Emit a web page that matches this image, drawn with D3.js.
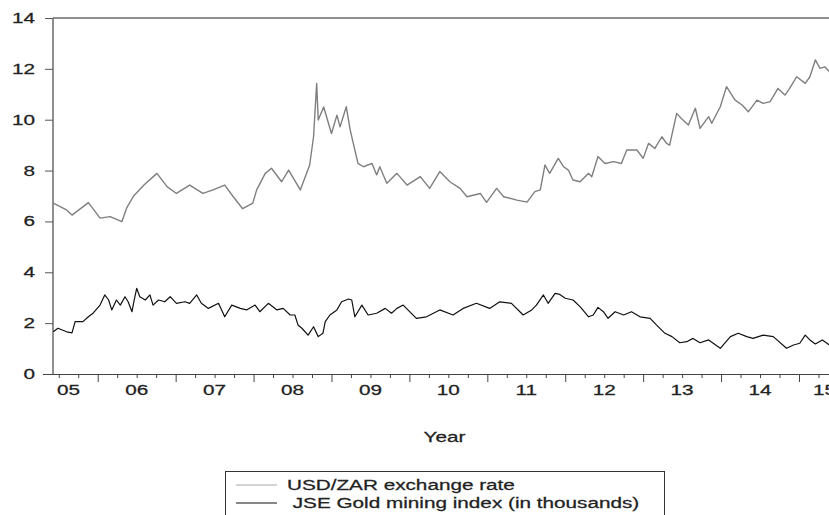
<!DOCTYPE html>
<html>
<head>
<meta charset="utf-8">
<script src="https://cdn.jsdelivr.net/npm/d3@7"></script>
<style>
  body { margin: 0; background: #fff; }
  text { font-family: Arial, 'Liberation Sans', sans-serif; fill: #222; stroke: #222; stroke-width: 0.25px; }
</style>
</head>
<body>
<svg id="chart" width="829" height="515"></svg>
<script>
// values (decimal year, value)
const usdDates = [2005.43, 2005.60, 2005.67, 2005.88, 2006.03, 2006.16, 2006.31, 2006.37, 2006.46, 2006.60, 2006.76, 2006.89,
  2007.01, 2007.18, 2007.35, 2007.48, 2007.63, 2007.74, 2007.86, 2007.99, 2008.04, 2008.15, 2008.23, 2008.36,
  2008.45, 2008.60, 2008.72, 2008.77, 2008.81, 2008.83, 2008.90, 2009.00, 2009.07, 2009.11, 2009.19, 2009.24,
  2009.28, 2009.34, 2009.41, 2009.52, 2009.58, 2009.62, 2009.71, 2009.84, 2009.97, 2010.14, 2010.26, 2010.39,
  2010.52, 2010.65, 2010.74, 2010.91, 2010.99, 2011.12, 2011.21, 2011.38, 2011.51, 2011.61, 2011.68, 2011.74,
  2011.80, 2011.91, 2011.98, 2012.04, 2012.10, 2012.19, 2012.30, 2012.34, 2012.42, 2012.51, 2012.62, 2012.72,
  2012.79, 2012.92, 2013.00, 2013.07, 2013.15, 2013.24, 2013.30, 2013.34, 2013.43, 2013.49, 2013.58, 2013.67,
  2013.73, 2013.84, 2013.88, 2013.99, 2014.07, 2014.18, 2014.27, 2014.35, 2014.46, 2014.54, 2014.63, 2014.73,
  2014.82, 2014.88, 2014.97, 2015.08, 2015.14, 2015.21, 2015.27, 2015.33, 2015.39]
const usdRate = [6.72, 6.45, 6.25, 6.74, 6.13, 6.19, 5.99, 6.52, 7.00, 7.45, 7.89, 7.37,
  7.10, 7.43, 7.10, 7.24, 7.43, 6.97, 6.50, 6.72, 7.24, 7.89, 8.09, 7.56,
  8.02, 7.24, 8.22, 9.33, 11.43, 9.99, 10.50, 9.46, 10.18, 9.72, 10.51, 9.60,
  9.07, 8.28, 8.15, 8.28, 7.83, 8.15, 7.50, 7.89, 7.43, 7.76, 7.30, 7.96,
  7.56, 7.30, 6.97, 7.10, 6.75, 7.30, 6.97, 6.84, 6.76, 7.17, 7.24, 8.22,
  7.89, 8.48, 8.15, 8.02, 7.63, 7.56, 7.89, 7.76, 8.55, 8.28, 8.35, 8.28,
  8.81, 8.81, 8.48, 9.07, 8.87, 9.33, 9.07, 9.00, 10.25, 10.05, 9.79, 10.45,
  9.66, 10.12, 9.86, 10.51, 11.30, 10.77, 10.58, 10.31, 10.77, 10.64, 10.71, 11.23,
  10.97, 11.23, 11.69, 11.43, 11.69, 12.35, 12.02, 12.08, 11.89]

const jseDates = [2005.43, 2005.49, 2005.60, 2005.67, 2005.71, 2005.81, 2005.88, 2005.94, 2006.03, 2006.09, 2006.14, 2006.18,
  2006.24, 2006.29, 2006.35, 2006.39, 2006.44, 2006.46, 2006.50, 2006.54, 2006.61, 2006.67, 2006.71, 2006.78,
  2006.86, 2006.93, 2007.01, 2007.12, 2007.18, 2007.27, 2007.33, 2007.42, 2007.55, 2007.63, 2007.72, 2007.83,
  2007.91, 2008.02, 2008.08, 2008.19, 2008.30, 2008.38, 2008.47, 2008.53, 2008.57, 2008.62, 2008.70, 2008.77,
  2008.83, 2008.89, 2008.92, 2008.98, 2009.07, 2009.13, 2009.22, 2009.26, 2009.30, 2009.39, 2009.47, 2009.58,
  2009.69, 2009.77, 2009.84, 2009.92, 2010.09, 2010.22, 2010.39, 2010.56, 2010.69, 2010.86, 2011.03, 2011.16,
  2011.31, 2011.46, 2011.57, 2011.63, 2011.72, 2011.78, 2011.87, 2011.93, 2012.00, 2012.10, 2012.19, 2012.30,
  2012.36, 2012.42, 2012.49, 2012.55, 2012.64, 2012.75, 2012.85, 2012.96, 2013.09, 2013.17, 2013.28, 2013.37,
  2013.47, 2013.56, 2013.64, 2013.73, 2013.84, 2013.99, 2014.12, 2014.22, 2014.33, 2014.41, 2014.54, 2014.67,
  2014.84, 2014.93, 2015.01, 2015.08, 2015.14, 2015.21, 2015.30, 2015.39]
const jseIndex = [1.66, 1.80, 1.66, 1.62, 2.06, 2.06, 2.25, 2.39, 2.71, 3.11, 2.91, 2.52,
  2.91, 2.71, 3.04, 2.84, 2.45, 2.79, 3.37, 3.04, 2.91, 3.11, 2.71, 2.91,
  2.84, 3.04, 2.78, 2.84, 2.78, 3.11, 2.78, 2.58, 2.78, 2.25, 2.71, 2.58,
  2.52, 2.71, 2.45, 2.78, 2.52, 2.58, 2.32, 2.32, 1.93, 1.80, 1.53, 1.86,
  1.47, 1.60, 2.06, 2.32, 2.52, 2.84, 2.95, 2.91, 2.25, 2.71, 2.32, 2.39,
  2.58, 2.39, 2.58, 2.71, 2.19, 2.25, 2.52, 2.32, 2.58, 2.78, 2.58, 2.84,
  2.78, 2.32, 2.52, 2.71, 3.11, 2.78, 3.17, 3.13, 2.98, 2.91, 2.65, 2.25,
  2.32, 2.62, 2.45, 2.19, 2.45, 2.32, 2.45, 2.25, 2.19, 1.93, 1.60, 1.47,
  1.23, 1.27, 1.40, 1.23, 1.34, 1.01, 1.47, 1.60, 1.47, 1.40, 1.53, 1.47,
  1.01, 1.14, 1.21, 1.53, 1.34, 1.18, 1.34, 1.14]

const years = [2005, 2006, 2007, 2008, 2009, 2010, 2011, 2012, 2013, 2014, 2015]
const yearLabels = ['05', '06', '07', '08', '09', '10', '11', '12', '13', '14', '15']
const yTicks = [0, 2, 4, 6, 8, 10, 12, 14]
const seriesNames = ['USD/ZAR exchange rate', ' JSE Gold mining index (in thousands)']

const plotLeft = 53, plotRight = 836, plotTop = 18, plotBottom = 374
const stretch = 1.48 // the picture's text is wide

let svg = d3.select('#chart')
let xScale = d3.scaleLinear().domain([2005.426, 2015.475]).range([plotLeft, plotRight])
let yScale = d3.scaleLinear().domain([0, 14]).range([plotBottom, plotTop])

function label (x, y, str, anchor) {
  return svg.append('text')
    .attr('transform', `translate(${x},${y}) scale(${stretch},1)`)
    .attr('text-anchor', anchor || 'middle')
    .style('font-size', '14px')
    .text(str)
}

// frame: top and left
svg.append('line').attr('x1', plotLeft).attr('x2', plotRight).attr('y1', plotTop).attr('y2', plotTop)
  .style('stroke', '#6a6a6a').style('stroke-width', 1.5)
svg.append('line').attr('x1', plotLeft).attr('x2', plotLeft).attr('y1', plotTop).attr('y2', plotBottom)
  .style('stroke', '#6a6a6a').style('stroke-width', 1.5)

// y axis
let yAxis = d3.axisLeft(yScale).tickValues(yTicks).tickSize(8).tickFormat('')
svg.append('g').attr('transform', `translate(${plotLeft},0)`).call(yAxis)
  .call(g => g.select('.domain').remove())
  .selectAll('line').style('stroke', '#555')
yTicks.forEach(v => label(35, yScale(v) + 5, v, 'end'))

// x axis with quarter ticks, longer at year starts
let quarters = []
years.forEach(yr => [0, 0.25, 0.5, 0.75].forEach(q => {
  let t = yr + q
  if (t >= xScale.domain()[0] && t <= xScale.domain()[1]) quarters.push(t)
}))
let xAxis = d3.axisBottom(xScale).tickValues(quarters).tickSize(4).tickSizeOuter(0).tickFormat('')
let xg = svg.append('g').attr('transform', `translate(0,${plotBottom})`).call(xAxis)
xg.select('.domain').attr('d', `M${plotLeft - 10},0.5H${plotRight}`).style('stroke', '#444')
xg.selectAll('.tick line').style('stroke', '#444')
  .attr('y2', d => Number.isInteger(d) ? 8 : 4)

years.forEach((yr, i) => {
  let t = label(xScale(yr + 0.5), 395, yearLabels[i])
  let w = t.node().getComputedTextLength() * stretch
  let cx = xScale(yr + 0.5)
  if (cx - w / 2 < plotLeft + 4) cx = plotLeft + 4 + w / 2
  if (cx + w / 2 > plotRight) cx = plotRight - w / 2
  t.attr('transform', `translate(${cx},395) scale(${stretch},1)`)
})

label((plotLeft + plotRight) / 2, 442, 'Year')

// series
let usdLine = d3.line().x((d, i) => xScale(usdDates[i])).y(d => yScale(d))
let jseLine = d3.line().x((d, i) => xScale(jseDates[i])).y(d => yScale(d))

svg.append('path').datum(usdRate).attr('d', usdLine)
  .style('fill', 'none').style('stroke', '#7f7f7f').style('stroke-width', 1.4)
  .style('stroke-linejoin', 'round')
svg.append('path').datum(jseIndex).attr('d', jseLine)
  .style('fill', 'none').style('stroke', '#111').style('stroke-width', 1.2)
  .style('stroke-linejoin', 'round')

// legend
svg.append('rect').attr('x', 225.5).attr('y', 471.5).attr('width', 439).attr('height', 60)
  .style('fill', 'none').style('stroke', '#333')
let legendColors = ['#a8a8a8', '#111']
seriesNames.forEach((name, i) => {
  let y = 485 + i * 18
  svg.append('line').attr('x1', 236).attr('x2', 277).attr('y1', y).attr('y2', y)
    .style('stroke', legendColors[i]).style('stroke-width', 1)
  label(287, y + 5, name, 'start').style('white-space', 'pre')
})
</script>
</body>
</html>
